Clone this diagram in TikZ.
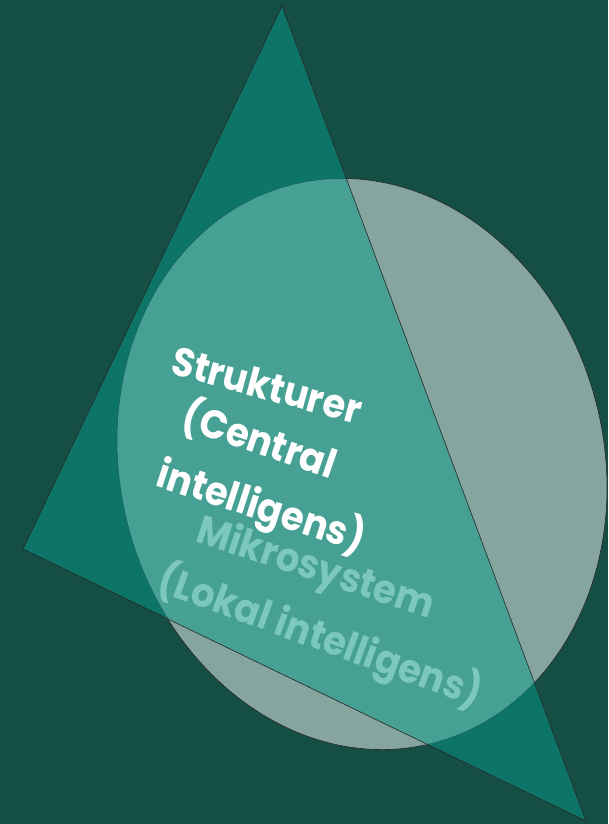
\documentclass[tikz,border=0pt]{standalone}
\usepackage{fontspec}
\setmainfont{Poppins}
\definecolor{bgc}{RGB}{21,78,69}
\definecolor{ellc}{RGB}{135,165,159}
\definecolor{tric}{RGB}{7,156,137}
\definecolor{mikc}{RGB}{125,200,190}
\newcommand{\narrowtext}[1]{\scalebox{0.92}[1]{#1}}
\begin{document}
\begin{tikzpicture}[x=1pt,y=-1pt,
  shapeline/.style={draw=black!85, line width=0.6pt},
  bigtext/.style={inner sep=0pt, font=\bfseries\fontsize{40}{48}\selectfont}]
\fill[bgc] (0,0) rectangle (608,824);
\useasboundingbox (0,0) rectangle (608,824);
% ellipse
\coordinate (ec) at (362,464);
\draw[shapeline, fill=ellc, rotate around={14:(ec)}] (ec) ellipse [x radius=242, y radius=288];
% triangle
\coordinate (ta) at (282,6);
\coordinate (tb) at (23,549);
\coordinate (tc) at (586,821);
\fill[tric, fill opacity=0.5] (ta) -- (tb) -- (tc) -- cycle;
\draw[shapeline, line join=miter] (ta) -- (tb) -- (tc) -- cycle;
% texts
\node[bigtext, text=mikc, rotate=-18] (mik1) at (315,570) {\narrowtext{Mikrosystem}};
\node[bigtext, text=mikc, rotate=-20] (mik2) at (320,637) {\narrowtext{(Lokal intelligens)}};
\node[bigtext, text=white, rotate=-15] (str1) at (267,385) {\narrowtext{Strukturer}};
\node[bigtext, text=white, rotate=-19] (str2) at (260,440) {\narrowtext{(Central}};
\node[bigtext, text=white, rotate=-18] (str3) at (261,507) {\narrowtext{intelligens)}};
\end{tikzpicture}
\end{document}
